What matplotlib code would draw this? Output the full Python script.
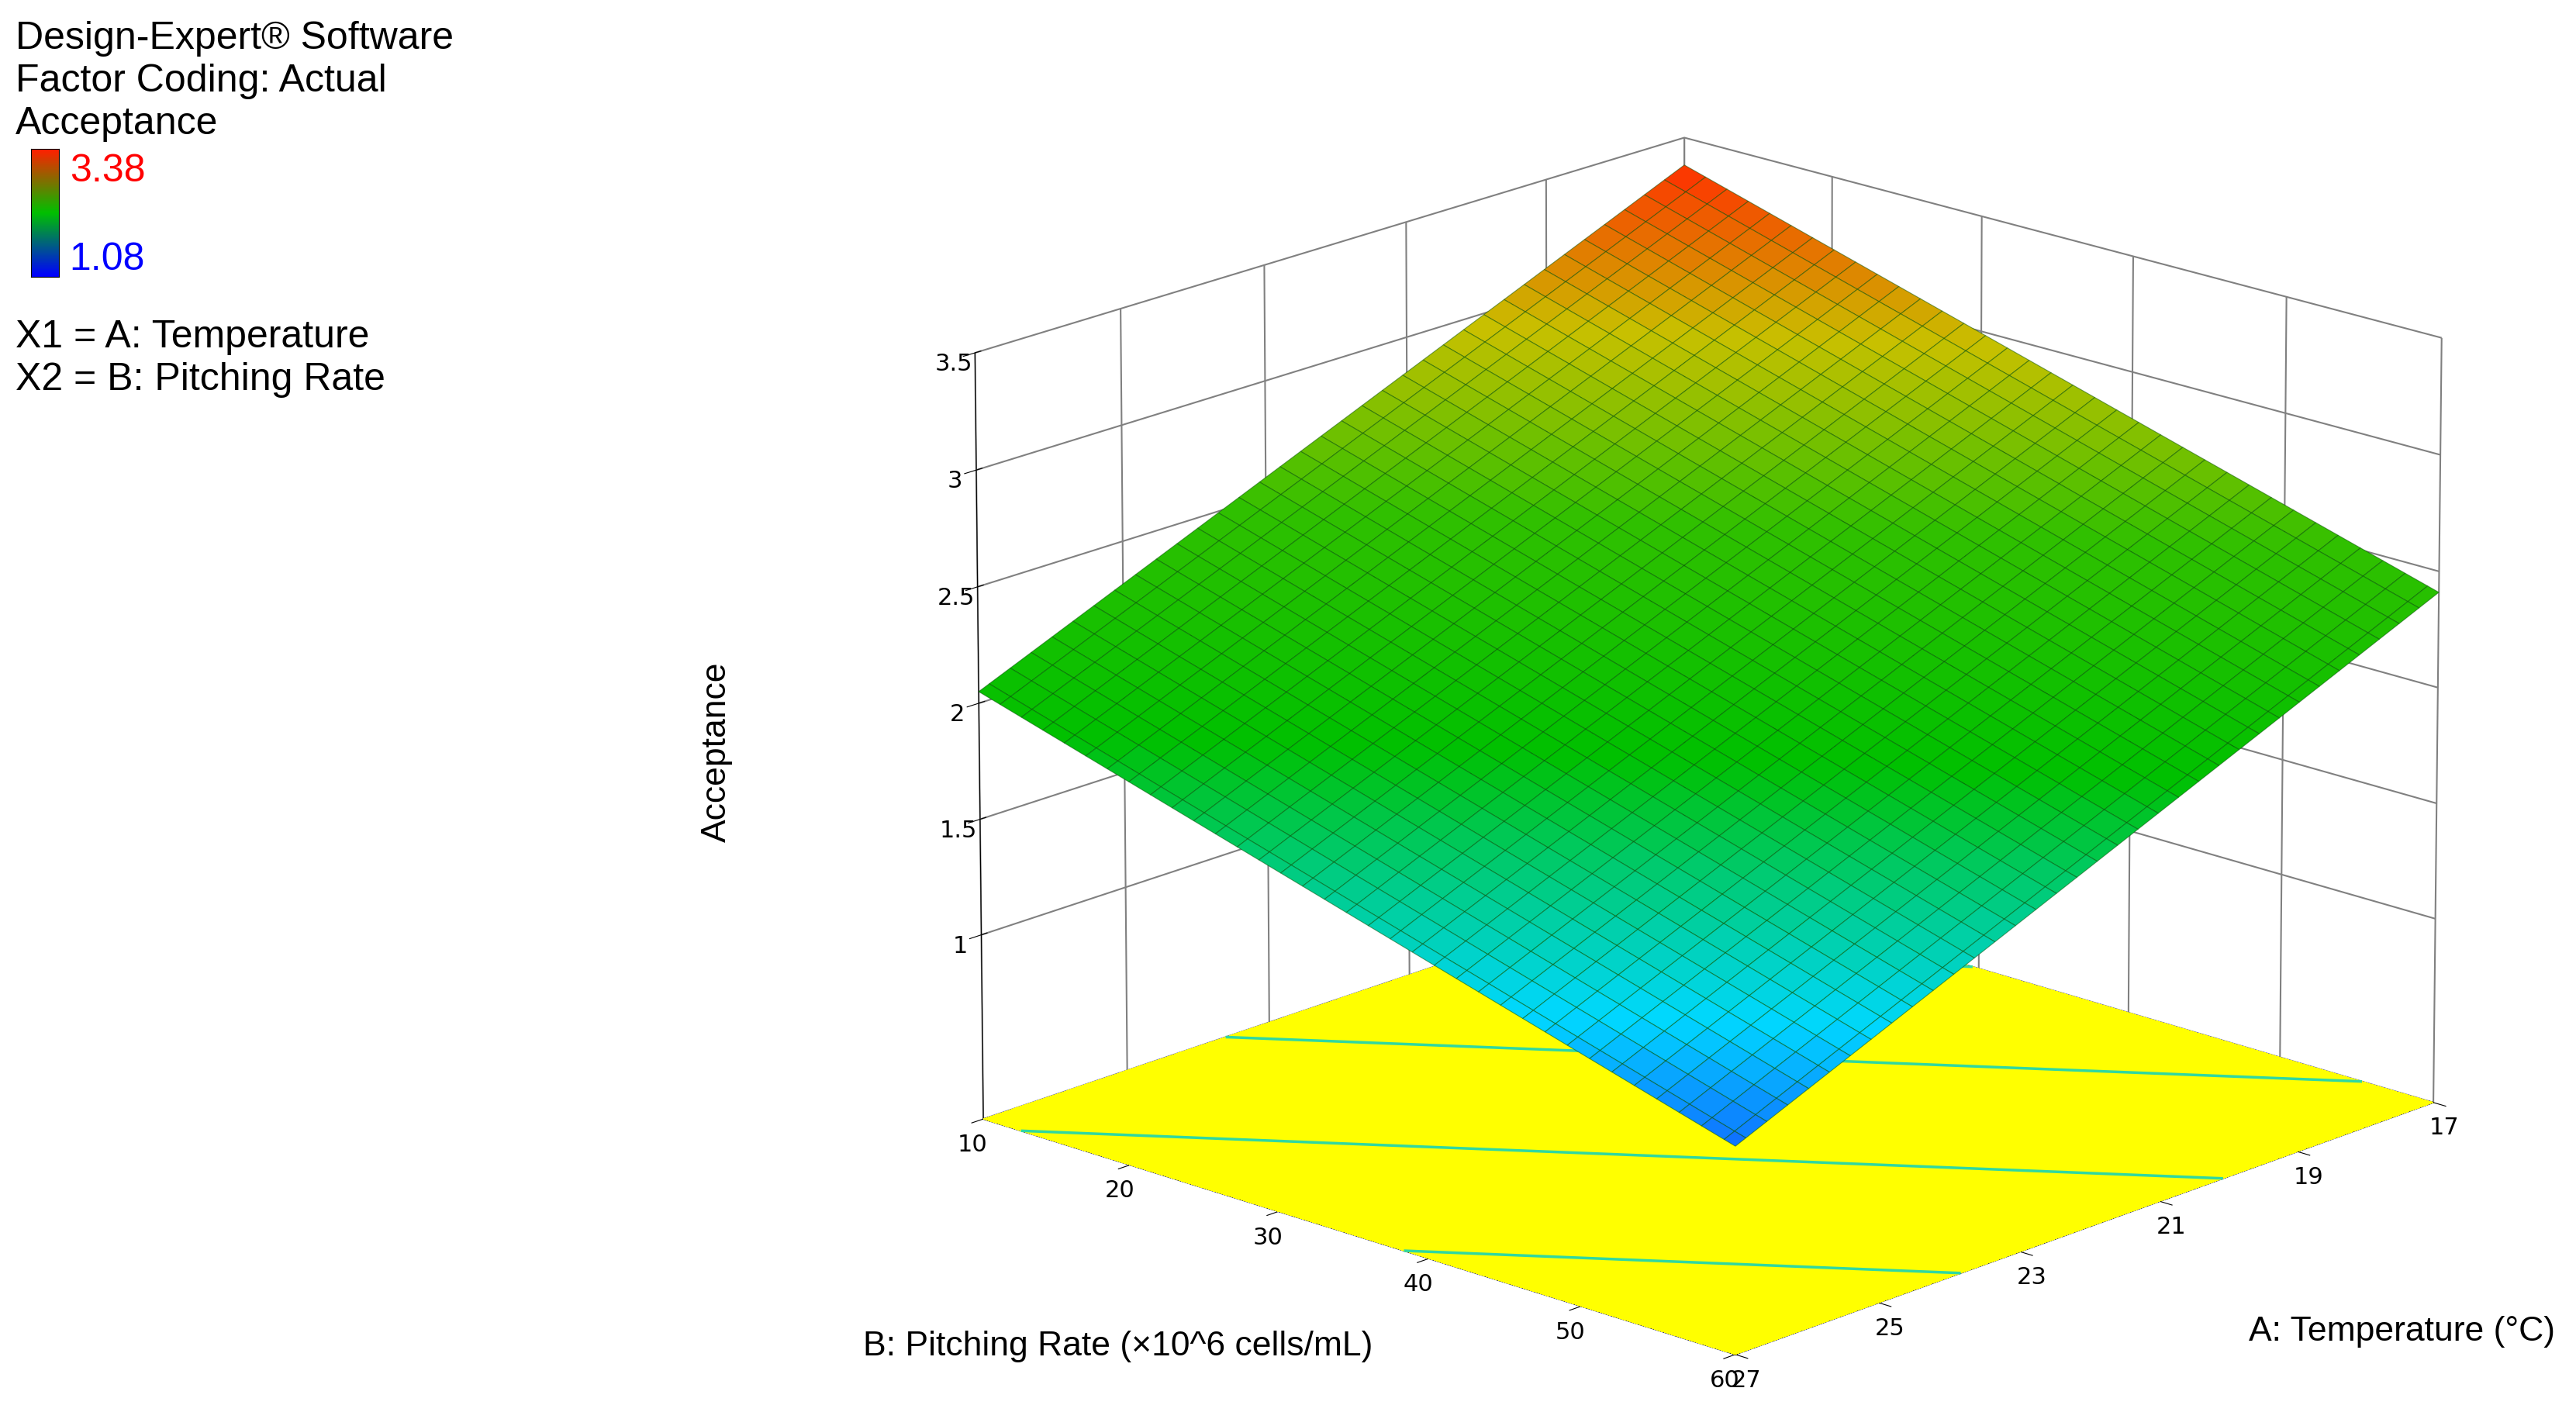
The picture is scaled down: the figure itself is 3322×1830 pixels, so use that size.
import numpy as np
import matplotlib.pyplot as plt
from matplotlib.colors import LinearSegmentedColormap

# Design-Expert linear model (actual factors), read from the surface corners
temp_range = [17, 27]          # A: Temperature (°C)
pitch_range = [10, 60]         # B: Pitching Rate
coef = [5.835, -0.133, -0.0194]  # intercept, A, B
z_min, z_max = 1.08, 3.38

temp_ticks = [17, 19, 21, 23, 25, 27]
pitch_ticks = [10, 20, 30, 40, 50, 60]
z_ticks = [1, 1.5, 2, 2.5, 3, 3.5]

de_cmap = LinearSegmentedColormap.from_list(
    'de', [(0, '#1070ff'), (0.12, '#00d8ff'), (0.38, '#00c000'),
           (0.62, '#30c000'), (0.82, '#c8c000'), (1, '#ff3000')])

A, B = np.meshgrid(np.linspace(*temp_range, 70), np.linspace(*pitch_range, 70))
Z = coef[0] + coef[1] * A + coef[2] * B

fig = plt.figure(figsize=(33.22, 18.30), dpi=100)
ax = fig.add_axes([0.235, -0.1, 0.84, 1.14], projection='3d')
ax.set_proj_type('persp', focal_length=2.5)
ax.set_box_aspect((1, 1, 0.78))
ax.computed_zorder = False

floor = 0.2
ax.contourf(A, B, Z, levels=[0, 10], colors=['#ffff00'], zdir='z', offset=floor, zorder=1)
ax.contour(A, B, Z, levels=[1.5, 2.0, 2.5, 3.0], colors=['#30d8a0'], zdir='z',
           offset=floor, linewidths=2.5, zorder=2)
ax.plot_surface(A, B, Z, cmap=de_cmap, vmin=z_min, vmax=z_max,
                edgecolor=(0, 0.3, 0, 0.5), linewidth=0.8, shade=False, zorder=3)

ax.set_xlim(27, 17)
ax.set_ylim(60, 10)
ax.set_zlim(floor, 3.5)
ax.set_xticks(temp_ticks)
ax.set_yticks(pitch_ticks)
ax.set_zticks(z_ticks)
ax.set_zticklabels(['1', '1.5', '2', '2.5', '3', '3.5'])
ax.tick_params(labelsize=22)
for axis in (ax.xaxis, ax.yaxis, ax.zaxis):
    axis.set_pane_color((1, 1, 1, 0))
    axis._axinfo['grid'].update(color='#808080', linewidth=1.5)
ax.view_init(elev=18, azim=-137)

kw = dict(fontsize=32, family='Liberation Sans')
fig.text(0.873, 0.055, 'A: Temperature (°C)', **kw)
fig.text(0.335, 0.045, 'B: Pitching Rate (×10^6 cells/mL)', **kw)
fig.text(0.272, 0.47, 'Acceptance', rotation=90, va='center', **kw)

kw = dict(fontsize=36, family='Liberation Sans')
fig.text(0.006, 0.985, 'Design-Expert® Software', va='top', **kw)
fig.text(0.006, 0.955, 'Factor Coding: Actual', va='top', **kw)
fig.text(0.006, 0.925, 'Acceptance', va='top', **kw)
cax = fig.add_axes([0.012, 0.805, 0.011, 0.09])
cax.imshow(np.linspace(1, 0, 100)[:, None], aspect='auto',
           cmap=LinearSegmentedColormap.from_list('bar', ['#0000ff', '#00c000', '#ff2000']))
cax.set_xticks([]); cax.set_yticks([])
fig.text(0.027, 0.872, '3.38', color='red', **kw)
fig.text(0.027, 0.81, '1.08', color='blue', **kw)
fig.text(0.006, 0.775, 'X1 = A: Temperature', va='top', **kw)
fig.text(0.006, 0.745, 'X2 = B: Pitching Rate', va='top', **kw)

fig.savefig('out.png')
